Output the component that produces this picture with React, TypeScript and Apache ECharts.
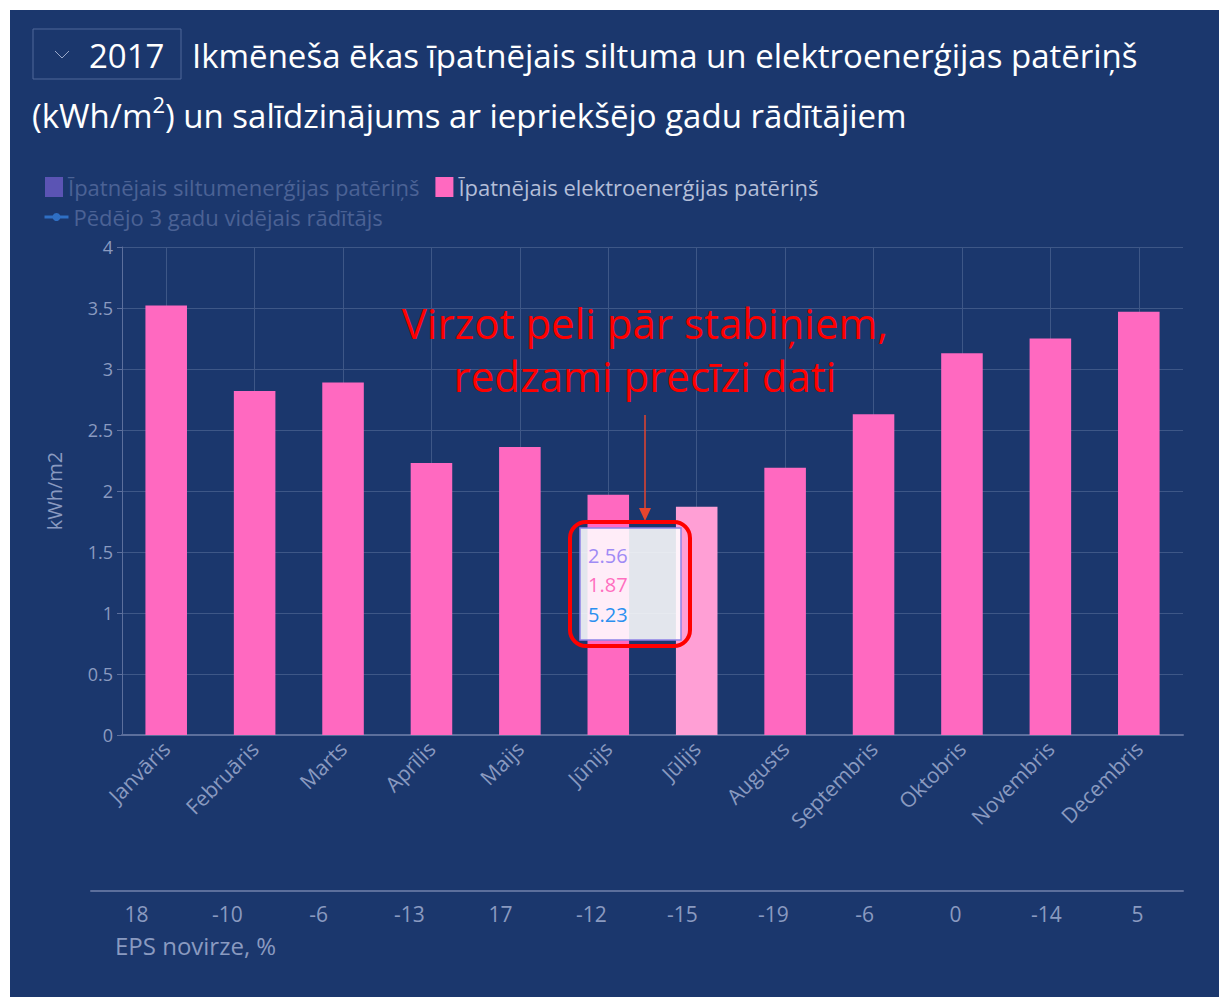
import React, { useEffect, useRef } from "react";
import * as echarts from "echarts";

const months = ["Janvāris", "Februāris", "Marts", "Aprīlis", "Maijs", "Jūnijs", "Jūlijs", "Augusts", "Septembris", "Oktobris", "Novembris", "Decembris"];
const elektroValues = [3.52, 2.82, 2.89, 2.23, 2.36, 1.97, 1.87, 2.19, 2.63, 3.13, 3.25, 3.47];
const siltumValues = [null, null, null, null, null, null, 2.56, null, null, null, null, null];
const avg3Values = [null, null, null, null, null, null, 5.23, null, null, null, null, null];
const epsDeviation = [18, -10, -6, -13, 17, -12, -15, -19, -6, 0, -14, 5];
const hoveredIndex = 6;

const S1 = "Īpatnējais siltumenerģijas patēriņš";
const S2 = "Īpatnējais elektroenerģijas patēriņš";
const S3 = "Pēdējo 3 gadu vidējais rādītājs";
const legendSelected: Record<string, boolean> = { [S1]: false, [S2]: true, [S3]: false };

const FONT = "'Open Sans', 'Noto Sans', sans-serif";
const BG = "#1b376d";
const LABEL = "#8a9ac0";
const GRID = "#3e5787";

export default function App() {
  const ref = useRef<HTMLDivElement>(null);
  useEffect(() => {
    document.body.style.margin = "0";
    const chart = echarts.init(ref.current!, null, { renderer: "svg" });
    const fmt = (v: number | null) => (v == null ? "" : v.toFixed(2));
    const legendFormatter = (name: string) => (legendSelected[name] ? `{on|${name}}` : `{off|${name}}`);
    const legendText = {
      fontSize: 22,
      fontFamily: FONT,
      rich: {
        on: { color: "#b4bed8", fontSize: 22, fontFamily: FONT },
        off: { color: "#4b6295", fontSize: 22, fontFamily: FONT },
      },
    };
    chart.setOption({
      animation: false,
      backgroundColor: BG,
      textStyle: { fontFamily: FONT },
      legend: [
        {
          left: 30,
          top: 161,
          itemWidth: 18,
          itemHeight: 20,
          itemGap: 16,
          selected: { [S1]: legendSelected[S1], [S2]: legendSelected[S2] },
          data: [
            { name: S1, icon: "rect", inactiveColor: "#5b54b4" },
            { name: S2, icon: "rect" },
          ],
          formatter: legendFormatter,
          textStyle: legendText,
        },
        {
          left: 28,
          top: 191,
          itemWidth: 24,
          itemHeight: 10,
          selected: { [S3]: legendSelected[S3] },
          data: [{ name: S3, inactiveColor: "#2f6fc4" }],
          lineStyle: { inactiveColor: "#2f6fc4", inactiveWidth: 3 },
          formatter: legendFormatter,
          textStyle: legendText,
        },
      ],
      grid: [
        { left: 112, right: 36, top: 237, height: 488 },
        { left: 81, right: 36, top: 871, height: 10 },
      ],
      xAxis: [
        {
          type: "category",
          gridIndex: 0,
          data: months,
          axisLine: { lineStyle: { color: "#5c6f9c", width: 2 } },
          axisTick: { alignWithLabel: true, length: 5, lineStyle: { color: "#5c6f9c" } },
          splitLine: { show: true, alignWithLabel: true, lineStyle: { color: GRID, width: 1 } },
          axisLabel: { rotate: 45, color: LABEL, fontSize: 21, margin: 10, fontFamily: FONT },
        },
        {
          type: "category",
          gridIndex: 1,
          data: months,
          position: "bottom",
          axisLine: { lineStyle: { color: "#5c6f9c", width: 2 } },
          axisTick: { alignWithLabel: true, inside: true, length: 8, lineStyle: { color: "#5c6f9c" } },
          splitLine: { show: false },
          axisLabel: {
            color: LABEL,
            fontSize: 21,
            margin: 12,
            fontFamily: FONT,
            formatter: (_v: string, i: number) => String(epsDeviation[i]),
          },
        },
      ],
      yAxis: [
        {
          type: "value",
          gridIndex: 0,
          min: 0,
          max: 4,
          interval: 0.5,
          name: "kWh/m2",
          nameLocation: "middle",
          nameRotate: 90,
          nameGap: 58,
          nameTextStyle: { color: LABEL, fontSize: 20, fontFamily: FONT },
          axisLine: { show: true, lineStyle: { color: "#5c6f9c", width: 1 } },
          axisTick: { show: true, length: 5, lineStyle: { color: "#5c6f9c" } },
          splitLine: { show: true, lineStyle: { color: GRID, width: 1 } },
          axisLabel: { color: LABEL, fontSize: 18, margin: 9, fontFamily: FONT },
        },
        { type: "value", gridIndex: 1, show: false, min: 0, max: 1 },
      ],
      series: [
        {
          name: S1,
          type: "bar",
          xAxisIndex: 0,
          yAxisIndex: 0,
          data: siltumValues,
          itemStyle: { color: "#6a5acd" },
          barWidth: "47%",
        },
        {
          name: S2,
          type: "bar",
          xAxisIndex: 0,
          yAxisIndex: 0,
          barWidth: "47%",
          data: elektroValues.map((v, i) =>
            i === hoveredIndex ? { value: v, itemStyle: { color: "#ff9fd5" } } : v
          ),
          itemStyle: { color: "#ff69c0" },
        },
        {
          name: S3,
          type: "line",
          xAxisIndex: 0,
          yAxisIndex: 0,
          data: avg3Values,
          symbol: "circle",
          symbolSize: 8,
          itemStyle: { color: "#2e8ff0" },
          lineStyle: { color: "#2e8ff0" },
        },
      ],
      graphic: [
        { type: "rect", shape: { x: 23, y: 19, width: 148, height: 50 }, style: { fill: "none", stroke: "#51689a", lineWidth: 1 } },
        { type: "polyline", shape: { points: [[45, 41], [52, 48], [59, 41]] }, style: { fill: "none", stroke: "#9aa8c8", lineWidth: 1 } },
        { type: "text", x: 79, y: 45, style: { text: "2017", fontSize: 33, fontFamily: FONT, fill: "#ffffff", verticalAlign: "middle" } },
        {
          type: "text",
          x: 182,
          y: 45,
          style: { text: "Ikmēneša ēkas īpatnējais siltuma un elektroenerģijas patēriņš", fontSize: 33, fontFamily: FONT, fill: "#ffffff", verticalAlign: "middle" },
        },
        {
          type: "text",
          x: 22,
          y: 105,
          style: {
            text: "{a|(kWh/m}{s|2}{a|) un salīdzinājums ar iepriekšējo gadu rādītājiem}",
            verticalAlign: "middle",
            rich: {
              a: { fontSize: 33, fontFamily: FONT, fill: "#ffffff", lineHeight: 44 },
              s: { fontSize: 22, fontFamily: FONT, fill: "#ffffff", lineHeight: 44, verticalAlign: "top" },
            },
          },
        },
        {
          type: "text",
          x: 105,
          y: 935,
          style: { text: "EPS novirze, %", fontSize: 24, fontFamily: FONT, fill: LABEL, verticalAlign: "middle" },
        },
        {
          type: "text",
          x: 635,
          y: 312,
          z: 50,
          style: { text: "Virzot peli pār stabiņiem,", fontSize: 42, fontFamily: FONT, fill: "#ff0000", align: "center", verticalAlign: "middle" },
        },
        {
          type: "text",
          x: 635,
          y: 365,
          z: 50,
          style: { text: "redzami precīzi dati", fontSize: 42, fontFamily: FONT, fill: "#ff0000", align: "center", verticalAlign: "middle" },
        },
        { type: "line", z: 50, shape: { x1: 635, y1: 405, x2: 635, y2: 500 }, style: { stroke: "#e5452e", lineWidth: 1.5 } },
        { type: "polygon", z: 50, shape: { points: [[629, 498], [641, 498], [635, 511]] }, style: { fill: "#e5452e" } },
        { type: "rect", z: 100, shape: { x: 570, y: 518, width: 101, height: 112 }, style: { fill: "rgba(255,255,255,0.88)", stroke: "#8f82e6", lineWidth: 1.5 } },
        { type: "text", z: 101, x: 578, y: 545, style: { text: fmt(siltumValues[hoveredIndex]), fontSize: 20, fontFamily: FONT, fill: "#a08bf5", verticalAlign: "middle" } },
        { type: "text", z: 101, x: 578, y: 574, style: { text: fmt(elektroValues[hoveredIndex]), fontSize: 20, fontFamily: FONT, fill: "#ff6fbf", verticalAlign: "middle" } },
        { type: "text", z: 101, x: 578, y: 604, style: { text: fmt(avg3Values[hoveredIndex]), fontSize: 20, fontFamily: FONT, fill: "#2a90f0", verticalAlign: "middle" } },
        { type: "rect", z: 102, shape: { x: 560, y: 512, width: 120, height: 124, r: 16 }, style: { fill: "none", stroke: "#ff0000", lineWidth: 4 } },
      ],
    });
    return () => chart.dispose();
  }, []);
  return (
    <div
      ref={ref}
      style={{ position: "absolute", left: 10, top: 10, width: 1209, height: 987 }}
    />
  );
}
